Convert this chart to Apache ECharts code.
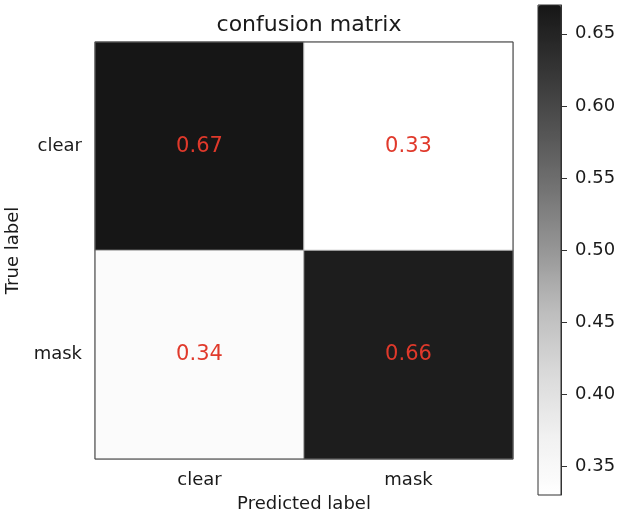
<!DOCTYPE html>
<html>
<head>
<meta charset="utf-8">
<script src="https://cdn.jsdelivr.net/npm/echarts@6/dist/echarts.min.js"></script>
<style>html,body{margin:0;padding:0;background:#fff;}#c{width:617px;height:516px;}</style>
</head>
<body>
<div id="c"></div>
<script>
const predictedLabels = ['clear', 'mask'];
const trueLabels = ['clear', 'mask'];
// rows = true label, cols = predicted label
const matrixRows = [
  [0.67, 0.33],
  [0.34, 0.66]
];
const colorbarTicks = [0.35, 0.40, 0.45, 0.50, 0.55, 0.60, 0.65];
const colorMin = 0.33;
const colorMax = 0.67;

const cells = [];
matrixRows.forEach((row, r) => row.forEach((v, c) => cells.push([c, r, v])));

const FONT = 'DejaVu Sans';
const chart = echarts.init(document.getElementById('c'), null, {renderer: 'canvas'});
chart.setOption({
  animation: false,
  backgroundColor: '#fff',
  textStyle: {fontFamily: FONT},
  title: {
    text: 'confusion matrix',
    left: 304, top: 9, textAlign: 'center',
    textStyle: {fontFamily: FONT, fontSize: 22, fontWeight: 'normal', color: '#1a1a1a'}
  },
  grid: [
    {left: 95, top: 42, width: 418, height: 417, show: true, borderColor: '#444', borderWidth: 1,
     backgroundColor: 'transparent', z: 5, containLabel: false, outerBoundsMode: 'none'},
    {left: 538, top: 5, width: 23, height: 490, show: true, borderColor: '#333', borderWidth: 1,
     backgroundColor: 'transparent', z: 10, containLabel: false, outerBoundsMode: 'none'}
  ],
  xAxis: [
    {type: 'category', gridIndex: 0, data: predictedLabels,
     axisLine: {show: false}, axisTick: {show: false}, splitLine: {show: false},
     axisLabel: {fontSize: 18, color: '#1a1a1a', margin: 12, fontFamily: FONT},
     name: 'Predicted label', nameLocation: 'middle', nameGap: 36,
     nameTextStyle: {fontSize: 18, color: '#1a1a1a', fontFamily: FONT}},
    {type: 'category', gridIndex: 1, data: [''], show: false}
  ],
  yAxis: [
    {type: 'category', gridIndex: 0, data: trueLabels, inverse: true,
     axisLine: {show: false}, axisTick: {show: false}, splitLine: {show: false},
     axisLabel: {fontSize: 18, color: '#1a1a1a', margin: 13, fontFamily: FONT},
     name: 'True label', nameLocation: 'middle', nameGap: 72, nameRotate: 90,
     nameTextStyle: {fontSize: 18, color: '#1a1a1a', fontFamily: FONT}},
    {type: 'value', gridIndex: 1, min: colorMin, max: colorMax, position: 'right', z: 10,
     axisLine: {show: true, lineStyle: {color: '#333'}},
     splitLine: {show: false},
     axisTick: {show: true, length: 6, lineStyle: {color: '#333'}, customValues: colorbarTicks},
     axisLabel: {fontSize: 18, color: '#1a1a1a', margin: 14, fontFamily: FONT, customValues: colorbarTicks,
       formatter: v => v.toFixed(2)}}
  ],
  visualMap: {
    type: 'continuous',
    min: colorMin, max: colorMax,
    seriesIndex: 0,
    calculable: false,
    show: true,
    left: 538, top: 5,
    itemWidth: 23, itemHeight: 490,
    padding: 0,
    text: null,
    showLabel: false,
    inRange: {color: ['#ffffff', '#f0f0f0', '#d9d9d9', '#bdbdbd', '#969696', '#737373', '#525252', '#333333', '#161616']}
  },
  series: [{
    type: 'heatmap',
    xAxisIndex: 0, yAxisIndex: 0,
    data: cells,
    itemStyle: {borderColor: '#b4b4b4', borderWidth: 1},
    label: {show: true, fontSize: 21, color: '#e0392b', fontFamily: FONT,
      formatter: p => p.value[2].toFixed(2)},
    emphasis: {disabled: true}
  }]
});
</script>
</body>
</html>
